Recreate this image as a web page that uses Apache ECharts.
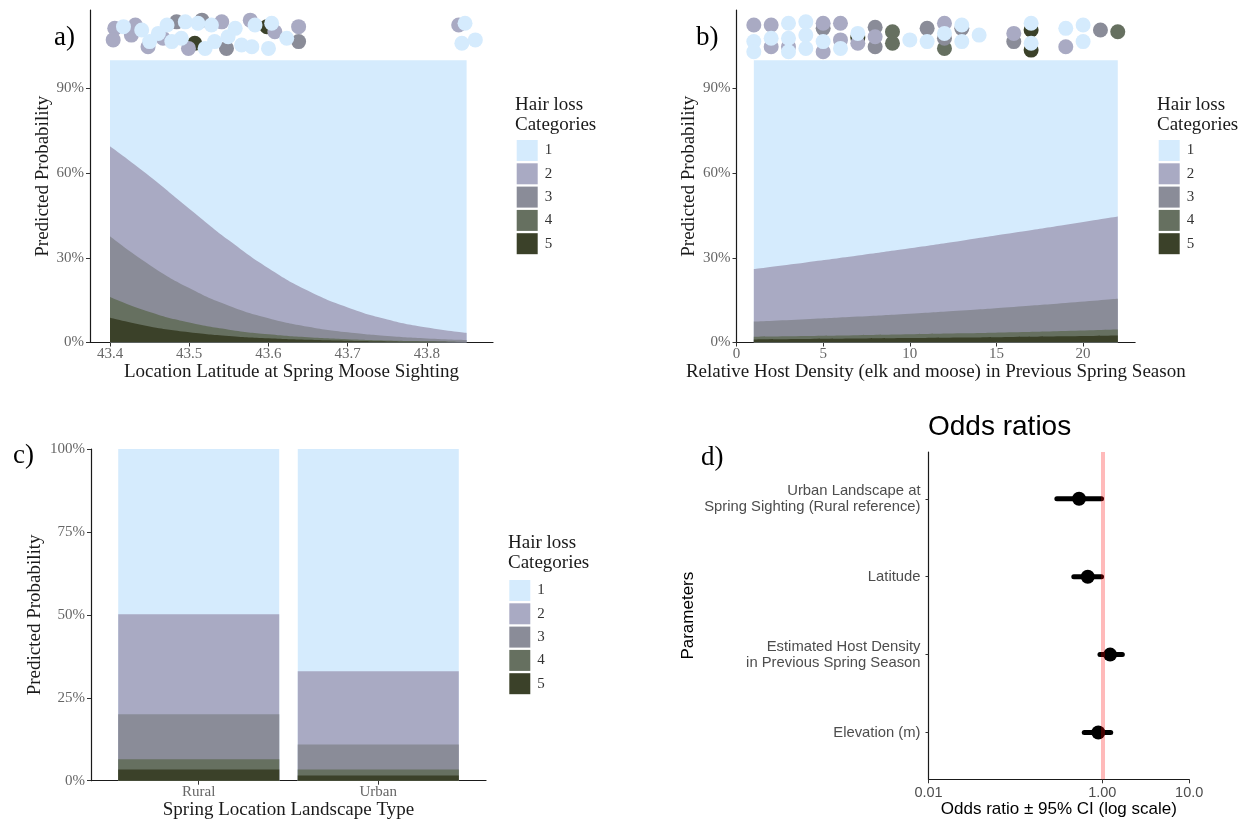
<!DOCTYPE html>
<html>
<head>
<meta charset="utf-8">
<title>Hair loss categories</title>
<script src="https://cdn.jsdelivr.net/npm/echarts@6.0.0/dist/echarts.min.js"></script>
<style>
  html, body { margin: 0; padding: 0; background: #ffffff; }
  #chart { width: 1247px; height: 822px; }
</style>
</head>
<body>
<div id="chart"></div>
<script>
// a) predicted probability (%) of each hair loss category by latitude
const latitude = [43.40, 43.45, 43.50, 43.55, 43.60, 43.65, 43.70, 43.75, 43.80, 43.85];
const latCat1 = [30.5, 41.1, 52.6, 63.8, 73.7, 81.7, 87.6, 91.84, 94.71, 96.61];
const latCat2 = [31.9, 31.4, 28.1, 23.15, 17.67, 12.69, 8.8, 5.86, 3.83, 2.47];
const latCat3 = [21.5, 16.72, 12.24, 8.49, 5.71, 3.75, 2.42, 1.56, 0.99, 0.62];
const latCat4 = [7.35, 5.09, 3.41, 2.23, 1.44, 0.92, 0.59, 0.37, 0.24, 0.15];
const latCat5 = [8.75, 5.69, 3.65, 2.33, 1.48, 0.94, 0.59, 0.37, 0.23, 0.15];

// observed sightings drawn above the curves (latitude, jittered %)
const latObs1 = [[43.417, 111.9], [43.440, 110.7], [43.450, 106.6], [43.461, 109.5], [43.472, 112.5], [43.478, 106.6],
  [43.490, 107.8], [43.495, 113.6], [43.511, 113.1], [43.520, 104.2], [43.528, 112.5], [43.532, 106.6], [43.549, 108.3],
  [43.558, 111.3], [43.566, 105.4], [43.579, 104.8], [43.583, 112.5], [43.600, 104.2], [43.604, 113.1], [43.623, 107.8],
  [43.848, 113.1], [43.844, 106.0], [43.861, 107.2]];
const latObs2 = [[43.406, 111.3], [43.404, 107.2], [43.427, 108.9], [43.432, 112.5], [43.448, 104.8], [43.467, 107.8],
  [43.499, 104.2], [43.541, 113.6], [43.577, 114.2], [43.608, 110.1], [43.638, 111.9], [43.840, 112.5]];
const latObs3 = [[43.484, 113.6], [43.516, 114.2], [43.547, 104.2], [43.638, 106.6]];
const latObs4 = [];
const latObs5 = [[43.507, 106.0], [43.598, 111.9]];

// b) predicted probability (%) by relative host density
const density = [1, 4, 7, 10, 13, 16, 19, 22];
const denCat1 = [74.0, 71.66, 69.19, 66.61, 63.92, 61.15, 58.30, 55.39];
const denCat2 = [18.6, 20.09, 21.61, 23.16, 24.71, 26.23, 27.71, 29.13];
const denCat3 = [5.35, 5.95, 6.62, 7.33, 8.12, 8.97, 9.90, 10.90];
const denCat4 = [0.95, 1.06, 1.19, 1.34, 1.49, 1.68, 1.88, 2.09];
const denCat5 = [1.10, 1.24, 1.39, 1.56, 1.76, 1.97, 2.21, 2.49];

const denObs1 = [[1, 106.6], [1, 103.0], [2, 107.8], [3, 113.1], [3, 107.8], [3, 103.0], [4, 113.6], [4, 108.9], [4, 104.2],
  [5, 106.6], [6, 104.2], [7, 109.5], [10, 107.2], [11, 106.6], [12, 109.5], [13, 112.5], [13, 106.6], [14, 108.9],
  [17, 106.0], [17, 113.1], [19, 111.3], [20, 112.5], [20, 106.6]];
const denObs2 = [[1, 112.5], [2, 112.5], [2, 104.8], [3, 104.8], [5, 113.1], [5, 103.0], [6, 113.1], [6, 107.2],
  [7, 106.0], [8, 108.3], [12, 113.1], [16, 109.5], [19, 104.8]];
const denObs3 = [[5, 111.3], [8, 111.7], [8, 104.8], [11, 111.3], [12, 107.8], [13, 111.3], [16, 106.6], [21, 110.7]];
const denObs4 = [[9, 110.1], [9, 106.0], [12, 104.2], [22, 110.1]];
const denObs5 = [[7, 108.0], [17, 110.7], [17, 103.6]];

// c) predicted probability (%) by landscape type
const landscape = ['Rural', 'Urban'];
const landCat1 = [49.8, 67.0];
const landCat2 = [30.2, 22.1];
const landCat3 = [13.5, 7.5];
const landCat4 = [3.1, 1.8];
const landCat5 = [3.4, 1.6];

// d) odds ratios, bottom to top
const paramLabels = ['Elevation (m)', 'Estimated Host Density\nin Previous Spring Season', 'Latitude',
  'Urban Landscape at\nSpring Sighting (Rural reference)'];
const oddsRatio = [0.90, 1.23, 0.68, 0.54];
const ciLow = [0.62, 0.94, 0.47, 0.30];
const ciHigh = [1.25, 1.70, 0.98, 0.98];

// tick labels
const latTicks = [43.4, 43.5, 43.6, 43.7, 43.8];
const densityTicks = [0, 5, 10, 15, 20];
const probTicks = [0, 30, 60, 90];
const probTicksC = [0, 25, 50, 75, 100];
const catNames = ['1', '2', '3', '4', '5'];
const catColors = ['#d5ebfd', '#a9aac3', '#8a8c98', '#667060', '#3b4129'];

const serif = "'Liberation Serif', 'DejaVu Serif', serif";
const sans = "'Liberation Sans', Arial, sans-serif";

const chart = echarts.init(document.getElementById('chart'));

// P(category >= k), so each layer can be filled from 0 and drawn over the previous one
function cumulate(cats) {
  return cats.map((_, k) => cats[0].map((_, j) => cats.slice(k).reduce((s, c) => s + c[j], 0)));
}

function areaSeries(axis, xs, cats) {
  return cumulate(cats).map((vals, k) => ({
    type: 'line', name: catNames[k], xAxisIndex: axis, yAxisIndex: axis,
    data: xs.map((x, j) => [x, vals[j]]),
    smooth: 0.5, symbol: 'none', silent: true,
    lineStyle: { width: 0 }, itemStyle: { color: catColors[k] },
    areaStyle: { color: catColors[k], opacity: 1 }, z: 2
  }));
}

function dotSeries(axis, groups) {
  return groups.map((pts, k) => ({
    type: 'scatter', name: catNames[k], xAxisIndex: axis, yAxisIndex: axis,
    data: pts, symbolSize: 15, silent: true,
    itemStyle: { color: catColors[k], opacity: 1 }, z: 3
  })).reverse();
}

const barSeries = cumulate([landCat1, landCat2, landCat3, landCat4, landCat5]).map((vals, k) => ({
  type: 'bar', name: catNames[k], xAxisIndex: 2, yAxisIndex: 2,
  data: vals.map((v, j) => [j + 1, v]),
  barWidth: 161, barGap: '-100%', silent: true,
  itemStyle: { color: catColors[k] }, z: 2
}));

const axisLine = { show: true, onZero: false, lineStyle: { color: '#1a1a1a', width: 1.2 } };
const tickLabel = { fontFamily: serif, fontSize: 15, color: '#666' };
const axisTitle = { fontFamily: serif, fontSize: 19, color: '#1a1a1a' };

function valueAxis(grid, min, max, ticks, formatter, name, nameGap, margin) {
  return {
    gridIndex: grid, type: 'value', min: min, max: max,
    name: name, nameLocation: 'middle', nameGap: nameGap, nameMoveOverlap: false, nameTextStyle: axisTitle,
    axisLine: axisLine,
    axisTick: { show: true, length: 4, customValues: ticks, lineStyle: { color: '#333' } },
    axisLabel: Object.assign({ customValues: ticks, formatter: formatter, margin: margin }, tickLabel),
    splitLine: { show: false }
  };
}

function panelLetter(text, left, top) {
  return { text: text, left: left, top: top, padding: 0,
    textStyle: { fontFamily: serif, fontSize: 27, fontWeight: 'normal', color: '#000' } };
}

function legendTitle(left, top) {
  return { text: 'Hair loss\nCategories', left: left, top: top, padding: 0,
    textStyle: { fontFamily: serif, fontSize: 19, fontWeight: 'normal', color: '#1a1a1a', lineHeight: 20 } };
}

function legendBox(left, top) {
  return {
    data: catNames, orient: 'vertical', left: left, top: top, padding: 0,
    itemWidth: 21, itemHeight: 21, itemGap: 2.3, icon: 'rect', selectedMode: false,
    textStyle: { fontFamily: serif, fontSize: 15, color: '#333', padding: [0, 0, 0, 2] }
  };
}

chart.setOption({
  animation: false,
  backgroundColor: '#ffffff',
  title: [
    panelLetter('a)', 54, 24),
    panelLetter('b)', 696, 24),
    panelLetter('c)', 13, 442),
    panelLetter('d)', 701, 444),
    { text: 'Odds ratios', left: 928, top: 413, padding: 0,
      textStyle: { fontFamily: sans, fontSize: 28, fontWeight: 'normal', color: '#000' } },
    legendTitle(515, 95),
    legendTitle(1157, 95),
    legendTitle(508, 533)
  ],
  legend: [legendBox(516.7, 140), legendBox(1158.7, 140), legendBox(509.3, 580)],
  grid: [
    { left: 90, top: 10, width: 403, height: 332.5, outerBoundsMode: 'none' },
    { left: 736.5, top: 10, width: 398.6, height: 332.5, outerBoundsMode: 'none' },
    { left: 91, top: 449, width: 395, height: 331.7, outerBoundsMode: 'none' },
    { left: 928.5, top: 452, width: 260.7, height: 327.3, outerBoundsMode: 'none' }
  ],
  xAxis: [
    valueAxis(0, 43.37476, 43.8833, latTicks, v => v.toFixed(1),
      'Location Latitude at Spring Moose Sighting', 20, 4),
    valueAxis(1, 0, 23, densityTicks, '{value}',
      'Relative Host Density (elk and moose) in Previous Spring Season', 20, 4),
    valueAxis(2, 0.4, 2.6, [1, 2], v => landscape[Math.round(v) - 1],
      'Spring Location Landscape Type', 20, 4),
    {
      gridIndex: 3, type: 'log', logBase: 100, min: 0.01, max: 10,
      name: 'Odds ratio ± 95% CI (log scale)', nameLocation: 'middle', nameGap: 22, nameMoveOverlap: false,
      nameTextStyle: { fontFamily: sans, fontSize: 17, color: '#000' },
      axisLine: axisLine,
      axisTick: { show: true, length: 4, lineStyle: { color: '#333' } },
      axisLabel: { margin: 6, fontFamily: sans, fontSize: 14.5, color: '#4d4d4d',
        formatter: v => (v < 10 ? v.toFixed(2) : v.toFixed(1)) },
      splitLine: { show: false }, minorTick: { show: false }
    }
  ],
  yAxis: [
    valueAxis(0, 0, 117.8, probTicks, '{value}%', 'Predicted Probability', 37, 6),
    valueAxis(1, 0, 117.8, probTicks, '{value}%', 'Predicted Probability', 38, 6),
    valueAxis(2, 0, 100, probTicksC, '{value}%', 'Predicted Probability', 46, 6),
    {
      gridIndex: 3, type: 'value', min: 0.4, max: 4.6,
      name: 'Parameters', nameLocation: 'middle', nameGap: 232, nameMoveOverlap: false,
      nameTextStyle: { fontFamily: sans, fontSize: 17, color: '#000' },
      axisLine: axisLine,
      axisTick: { show: true, length: 3, customValues: [1, 2, 3, 4], lineStyle: { color: '#333' } },
      axisLabel: { customValues: [1, 2, 3, 4], margin: 8, fontFamily: sans, fontSize: 14.8, color: '#4d4d4d',
        lineHeight: 16, formatter: v => paramLabels[Math.round(v) - 1] },
      splitLine: { show: false }
    }
  ],
  series: [
    ...barSeries,
    ...areaSeries(0, latitude, [latCat1, latCat2, latCat3, latCat4, latCat5]),
    ...dotSeries(0, [latObs1, latObs2, latObs3, latObs4, latObs5]),
    ...areaSeries(1, density, [denCat1, denCat2, denCat3, denCat4, denCat5]),
    ...dotSeries(1, [denObs1, denObs2, denObs3, denObs4, denObs5]),
    {
      type: 'custom', xAxisIndex: 3, yAxisIndex: 3, silent: true, z: 2,
      data: paramLabels.map((_, i) => [ciLow[i], ciHigh[i], i + 1]),
      encode: { x: [0, 1], y: 2 },
      renderItem: function (params, api) {
        const a = api.coord([api.value(0), api.value(2)]);
        const b = api.coord([api.value(1), api.value(2)]);
        return {
          type: 'line',
          shape: { x1: a[0], y1: a[1], x2: b[0], y2: b[1] },
          style: { stroke: '#000', lineWidth: 5, lineCap: 'round' }
        };
      }
    },
    {
      type: 'scatter', xAxisIndex: 3, yAxisIndex: 3, silent: true, z: 3,
      data: oddsRatio.map((v, i) => [v, i + 1]),
      symbolSize: 14, itemStyle: { color: '#000', opacity: 1 },
      markLine: {
        silent: true, symbol: 'none', label: { show: false },
        lineStyle: { color: 'rgba(255, 0, 0, 0.27)', width: 4, type: 'solid' },
        data: [{ xAxis: 1 }]
      }
    }
  ]
});
</script>
</body>
</html>
